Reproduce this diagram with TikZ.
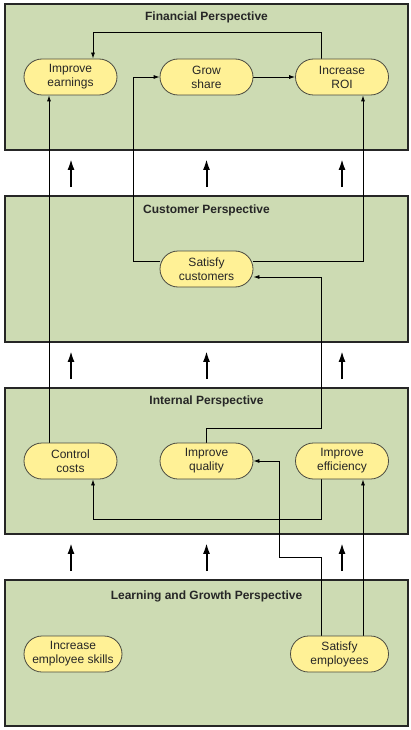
\documentclass[tikz,border=0pt]{standalone}
\usepackage{fontspec}
\setmainfont{Liberation Sans}
\usetikzlibrary{arrows.meta,shapes.misc,positioning}
\pgfdeclarelayer{back}
\pgfsetlayers{back,main}
\definecolor{panelgreen}{HTML}{CDDBB3}
\definecolor{goalyellow}{HTML}{FFF196}
\definecolor{goalline}{HTML}{4A4A40}

\begin{document}
\begin{tikzpicture}[
	x=1pt, y=-1pt,
	font=\fontsize{12}{14}\selectfont,
	panel/.style={rectangle,draw=black!85,line width=1.8pt,fill=panelgreen,minimum width=403pt,minimum height=146pt,inner sep=0pt},
	ptitle/.style={font=\fontsize{12}{14}\selectfont\bfseries,text=black!85},
	goal/.style={rounded rectangle,draw=goalline,line width=0.8pt,fill=goalyellow,minimum width=95pt,minimum height=36pt,inner sep=1pt,align=center,text=black!85},
	wide/.style={goal,minimum width=100pt},
	link/.style={line width=0.8pt,-{Latex[length=6pt,width=4pt]}},
	lift/.style={line width=2pt,-{Latex[length=11pt,width=7pt]}},
	]
\useasboundingbox (0,0) rectangle (411,730);

% perspectives
\begin{pgfonlayer}{back}
	\node [panel] (fin) at (206.5,77) {};
	\node [panel] (cus) at (206.5,269) {};
	\node [panel] (int) at (206.5,461) {};
	\node [panel] (lrn) at (206.5,653) {};
\end{pgfonlayer}
\node [ptitle] (fint) at ([yshift=-14]fin.north) {Financial Perspective};
\node [ptitle] (cust) at ([yshift=-15]cus.north) {Customer Perspective};
\node [ptitle] (intt) at ([yshift=-14]int.north) {Internal Perspective};
\node [ptitle] (lrnt) at ([yshift=-17]lrn.north) {Learning and Growth Perspective};

% goals
\node [goal] (earn) at (70.5,77) {Improve\\earnings};
\node [goal] (grow) at (206.5,77) {Grow\\share};
\node [goal] (roi) at (342,77) {Increase\\ROI};
\node [goal] (satc) at (206.5,269) {Satisfy\\customers};
\node [goal] (cost) at (70.5,461) {Control\\costs};
\node [goal] (qual) at (206.5,461) {Improve\\quality};
\node [goal] (effi) at (342,461) {Improve\\efficiency};
\node [wide] (skil) at (73,654) {Increase\\employee skills};
\node [wide] (sate) at (339.5,654) {Satisfy\\employees};

% links
\begin{pgfonlayer}{back}
	\draw [link] ([xshift=-21]roi.north) -- ++(0,-26) -| ([xshift=22.5]earn.north);
	\draw [link] (grow.east) -- (roi.west);
	\draw [link] ([yshift=8]satc.west) -| (133,77) -- (grow.west);
	\draw [link] ([yshift=8]satc.east) -| ([xshift=21]roi.south);
	\draw [link] ([xshift=-21.5]cost.north) -- ([xshift=-21.5]earn.south);
	\draw [link] (qual.north) |- (321,428) |- ([yshift=-8]satc.east);
	\draw [link] ([xshift=-21]effi.south) -- ++(0,40) -| ([xshift=22.5]cost.south);
	\draw [link] ([xshift=-18.5]sate.north) |- (279,557) |- (qual.east);
	\draw [link] ([xshift=23.5]sate.north) -- ([xshift=21]effi.south);
\end{pgfonlayer}

% lifts between perspectives
\foreach \lo/\hi in {cus/fin,int/cus,lrn/int}
	\foreach \dx in {-135.5,0,135.5}
		\draw [lift] ([xshift=\dx,yshift=8]\lo.north) -- ([xshift=\dx,yshift=-8]\hi.south);
\end{tikzpicture}
\end{document}
